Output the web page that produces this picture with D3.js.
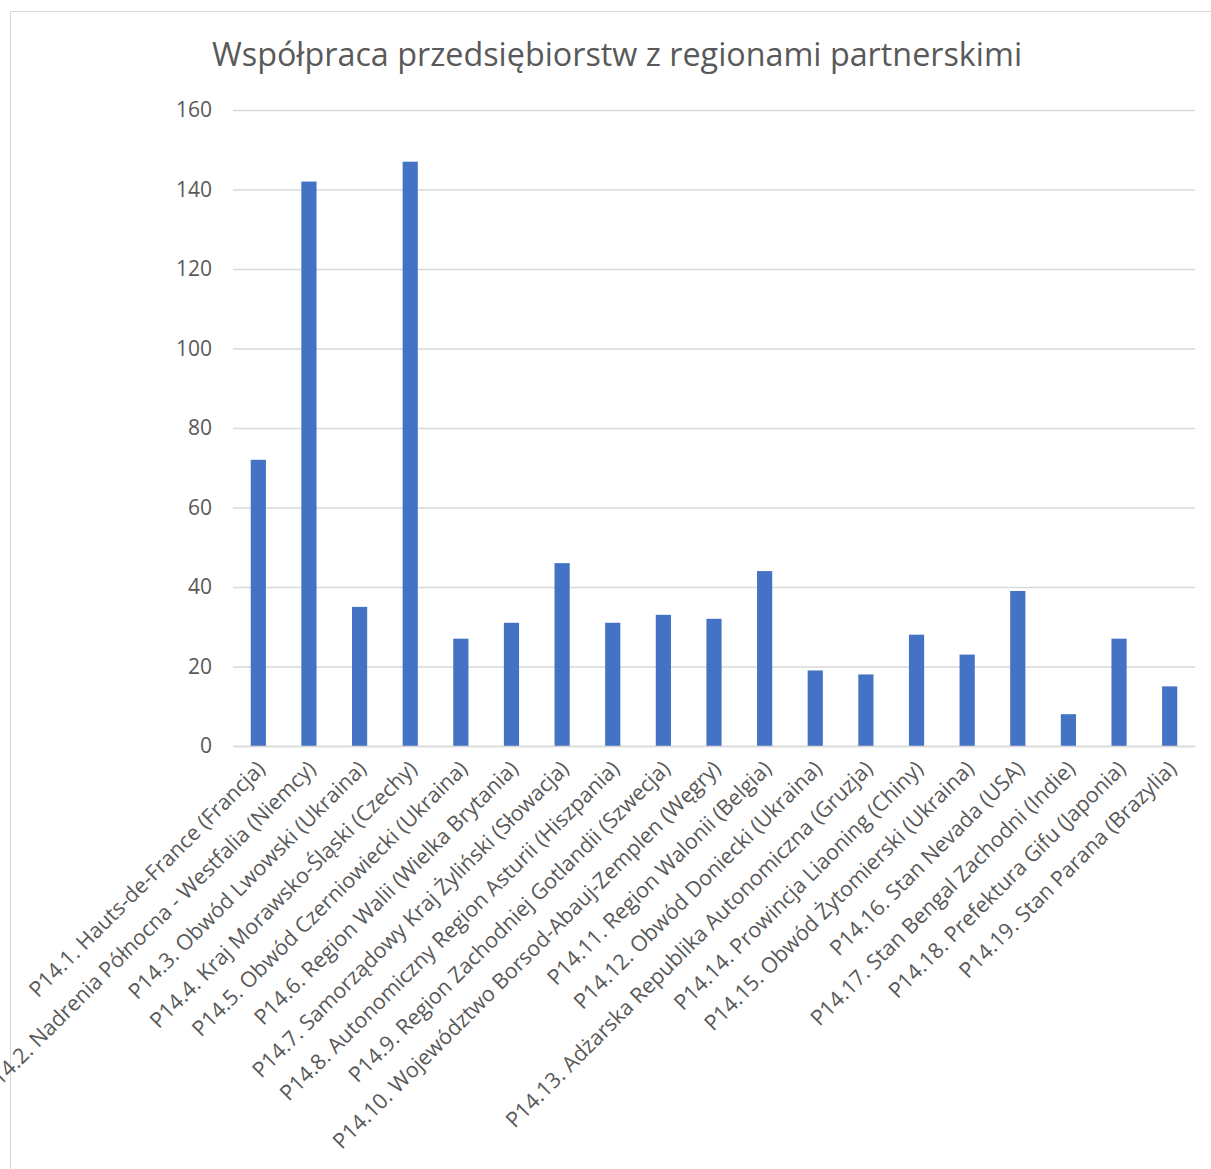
<!DOCTYPE html>
<html>
<head>
<meta charset="utf-8">
<script src="https://cdn.jsdelivr.net/npm/d3@7"></script>
<style>
  body { margin: 0; background: #fff; }
  svg { display: block; }
</style>
</head>
<body>
<svg id="chart"></svg>
<script>
var width = 1211;
var height = 1169;

var title = "Współpraca przedsiębiorstw z regionami partnerskimi";

var categories = [
  "P14.1. Hauts-de-France (Francja)",
  "P14.2. Nadrenia Północna - Westfalia (Niemcy)",
  "P14.3. Obwód Lwowski (Ukraina)",
  "P14.4. Kraj Morawsko-Śląski (Czechy)",
  "P14.5. Obwód Czerniowiecki (Ukraina)",
  "P14.6. Region Walii (Wielka Brytania)",
  "P14.7. Samorządowy Kraj Żyliński (Słowacja)",
  "P14.8. Autonomiczny Region Asturii (Hiszpania)",
  "P14.9. Region Zachodniej Gotlandii (Szwecja)",
  "P14.10. Województwo Borsod-Abauj-Zemplen (Węgry)",
  "P14.11. Region Walonii (Belgia)",
  "P14.12. Obwód Doniecki (Ukraina)",
  "P14.13. Adżarska Republika Autonomiczna (Gruzja)",
  "P14.14. Prowincja Liaoning (Chiny)",
  "P14.15. Obwód Żytomierski (Ukraina)",
  "P14.16. Stan Nevada (USA)",
  "P14.17. Stan Bengal Zachodni (Indie)",
  "P14.18. Prefektura Gifu (Japonia)",
  "P14.19. Stan Parana (Brazylia)"
];

var values = [72, 142, 35, 147, 27, 31, 46, 31, 33, 32, 44, 19, 18, 28, 23, 39, 8, 27, 15];

var yTicks = [0, 20, 40, 60, 80, 100, 120, 140, 160];

var margin = {top: 110, left: 233, right: 16, bottom: 423};
var plotW = width - margin.left - margin.right;
var plotH = height - margin.top - margin.bottom;
var textColor = "#595959";
var gridColor = "#d9d9d9";
var fontFam = "'Open Sans', 'Noto Sans', sans-serif";

var svg = d3.select('#chart')
  .attr('width', width)
  .attr('height', height)
  .style('font-family', fontFam);

// chart area border
svg.append('rect')
  .attr('x', 10.5)
  .attr('y', 11.5)
  .attr('width', width + 20)
  .attr('height', height + 20)
  .attr('fill', '#fff')
  .attr('stroke', gridColor)
  .attr('stroke-width', 1);

var g = svg.append('g')
  .attr('transform', 'translate(' + margin.left + ',' + margin.top + ')');

var x = d3.scaleBand()
  .domain(categories)
  .range([0, plotW])
  .padding(0);

var y = d3.scaleLinear()
  .domain([0, 160])
  .range([plotH, 0]);

// gridlines + y labels
var yAxis = g.append('g')
  .attr('class', 'y-axis')
  .call(d3.axisLeft(y).tickValues(yTicks).tickSize(-plotW).tickPadding(21));

yAxis.select('.domain').remove();
yAxis.selectAll('.tick line')
  .attr('stroke', gridColor)
  .attr('stroke-width', 1.3);
yAxis.selectAll('.tick text')
  .attr('fill', textColor)
  .attr('font-size', 21)
  .attr('font-family', fontFam);

// bars
var barW = x.bandwidth() * 0.3;
g.append('g')
  .selectAll('rect')
  .data(values)
  .enter().append('rect')
    .attr('x', function(d, i) { return x(categories[i]) + (x.bandwidth() - barW) / 2; })
    .attr('y', function(d) { return y(d); })
    .attr('width', barW)
    .attr('height', function(d) { return plotH - y(d); })
    .attr('fill', '#4472c4');

// x labels, rotated
var xAxis = g.append('g')
  .attr('class', 'x-axis')
  .attr('transform', 'translate(0,' + plotH + ')')
  .call(d3.axisBottom(x).tickSize(0).tickPadding(0));

xAxis.select('.domain')
  .attr('stroke', gridColor)
  .attr('stroke-width', 1.3);

xAxis.selectAll('.tick text')
  .attr('fill', textColor)
  .attr('font-size', 21.5)
  .attr('font-family', fontFam)
  .attr('text-anchor', 'end')
  .attr('dy', null)
  .attr('y', 0)
  .attr('transform', 'translate(8,24) rotate(-45)');

// title
svg.append('text')
  .attr('x', 617)
  .attr('y', 66)
  .attr('text-anchor', 'middle')
  .attr('font-size', 32.3)
  .attr('fill', textColor)
  .text(title);
</script>
</body>
</html>
